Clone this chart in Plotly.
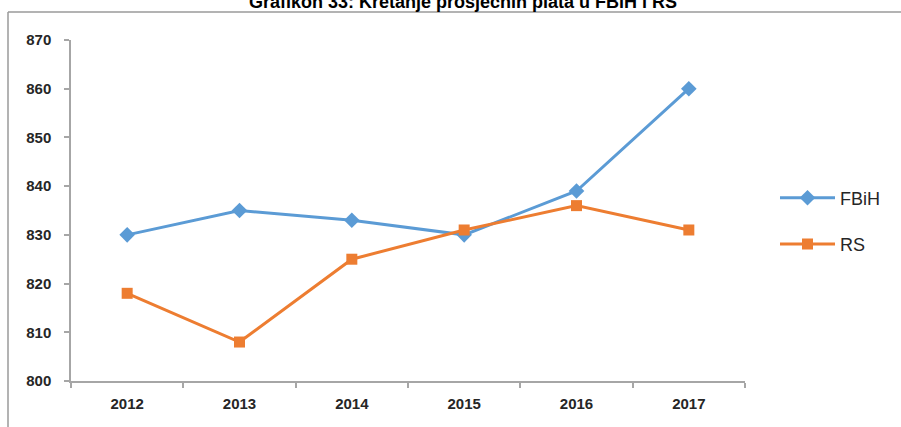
import plotly.graph_objects as go

years = ["2012", "2013", "2014", "2015", "2016", "2017"]
fbih = [830, 835, 833, 830, 839, 860]
rs = [818, 808, 825, 831, 836, 831]
y_ticks = [800, 810, 820, 830, 840, 850, 860, 870]

W, H = 901, 427
L, R, T, B = 71, 156, 40, 46
pw, ph = W - L - R, H - T - B


def px_x(x):
    return (x - L) / pw


def px_y(y):
    return (H - B - y) / ph


fig = go.Figure()

fig.add_trace(go.Scatter(
    x=years, y=fbih, name="FBiH", mode="lines+markers",
    line=dict(color="#5B9BD5", width=3),
    marker=dict(symbol="diamond", size=12, color="#5B9BD5"),
    legendgroup="a",
))
fig.add_trace(go.Scatter(
    x=years, y=rs, name="RS", mode="lines+markers",
    line=dict(color="#ED7D31", width=3),
    marker=dict(symbol="square", size=11, color="#ED7D31"),
    legendgroup="b",
))

axis_col = "#A6A6A6"
tick_font = dict(family="Liberation Sans, Arial, sans-serif", size=15,
                 color="#262626", weight="bold")

fig.update_xaxes(
    type="category", range=[-0.5, 5.5],
    showline=True, linecolor=axis_col, linewidth=1.5,
    ticks="outside", tickson="boundaries", ticklen=5, tickcolor=axis_col, tickwidth=1.5,
    showgrid=False, zeroline=False, tickfont=tick_font,
    ticklabelstandoff=8,
)
fig.update_yaxes(
    range=[800, 870], tickvals=y_ticks,
    showline=True, linecolor=axis_col, linewidth=1.5,
    ticks="outside", ticklen=5, tickcolor=axis_col, tickwidth=1.5,
    showgrid=False, zeroline=False, tickfont=tick_font,
    ticklabelstandoff=10,
)

frame = dict(color="#9A9A9A", width=1.5)
fig.add_shape(type="line", xref="paper", yref="paper",
              x0=px_x(8), x1=px_x(905), y0=px_y(12), y1=px_y(12), line=frame)
fig.add_shape(type="line", xref="paper", yref="paper",
              x0=px_x(8), x1=px_x(8), y0=px_y(12), y1=px_y(430), line=frame)

fig.add_annotation(
    text="<b>Grafikon 33: Kretanje prosječnih plata u FBiH i RS</b>",
    xref="paper", yref="paper", x=px_x(463), y=px_y(2),
    xanchor="center", yanchor="middle", showarrow=False,
    font=dict(family="Liberation Sans, Arial, sans-serif", size=18, color="#000000"),
)

fig.update_layout(
    width=W, height=H,
    margin=dict(l=L, r=R, t=T, b=B),
    paper_bgcolor="white", plot_bgcolor="white",
    showlegend=True,
    legend=dict(
        x=px_x(775), y=px_y(221), xanchor="left", yanchor="middle",
        font=dict(family="Liberation Sans, Arial, sans-serif", size=18, color="#262626"),
        traceorder="grouped", tracegroupgap=20, itemwidth=55,
        bgcolor="rgba(0,0,0,0)",
    ),
)

# page body has a default 8px margin; remove it so the figure sits at 0,0
fig.write_html("out.html", config={"displayModeBar": False},
               post_script="document.body.style.margin='0';")
